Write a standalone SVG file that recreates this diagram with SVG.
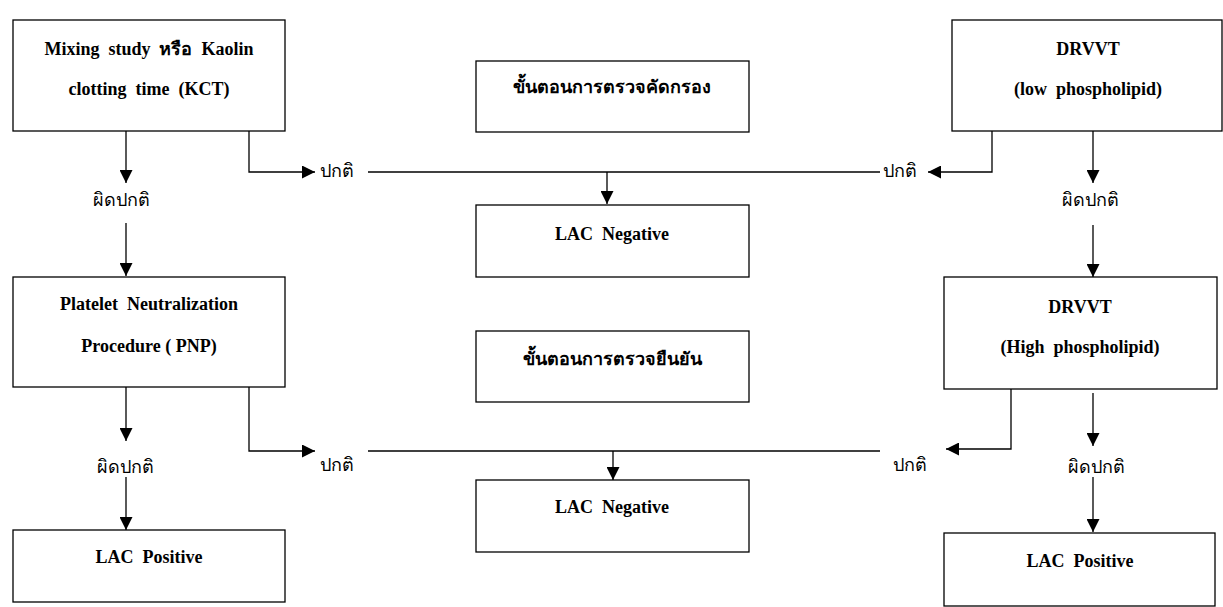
<svg xmlns="http://www.w3.org/2000/svg" width="1223" height="607" viewBox="0 0 1223 607">
<style>
.box{fill:#fff;stroke:#000;stroke-width:1.3}
.t{font-family:"Liberation Serif","Times New Roman","DejaVu Serif",serif;font-weight:bold;font-size:18px;fill:#000;text-anchor:middle}
.th{font-family:"Liberation Serif","Noto Sans",serif;font-weight:bold;font-size:18px;fill:#000;text-anchor:middle}
.lb{font-family:"Liberation Sans","Noto Sans",sans-serif;font-size:18px;fill:#000}
.c{fill:none;stroke:#000;stroke-width:1.3}
</style>
<defs>
<marker id="ah" viewBox="0 0 13 13" refX="13" refY="6.5" markerWidth="13" markerHeight="13" markerUnits="userSpaceOnUse" orient="auto">
<path d="M0,0 L13,6.5 L0,13 z" fill="#000"/>
</marker>
</defs>
<rect width="1223" height="607" fill="#fff"/>
<g id="connectors">
<path class="c" d="M126,131 V183" marker-end="url(#ah)"/>
<path class="c" d="M126,223 V276" marker-end="url(#ah)"/>
<path class="c" d="M249,131 V172 H315" marker-end="url(#ah)"/>
<path class="c" d="M368,172 H880"/>
<path class="c" d="M607,172 V204" marker-end="url(#ah)"/>
<path class="c" d="M992,131 V172 H928" marker-end="url(#ah)"/>
<path class="c" d="M1093,131 V183" marker-end="url(#ah)"/>
<path class="c" d="M1093,225 V277" marker-end="url(#ah)"/>
<path class="c" d="M126,387 V441" marker-end="url(#ah)"/>
<path class="c" d="M126,477 V530" marker-end="url(#ah)"/>
<path class="c" d="M249,387 V451 H315" marker-end="url(#ah)"/>
<path class="c" d="M368,451 H880"/>
<path class="c" d="M613,451 V480" marker-end="url(#ah)"/>
<path class="c" d="M1011,389 V449 H946" marker-end="url(#ah)"/>
<path class="c" d="M1093,393 V446" marker-end="url(#ah)"/>
<path class="c" d="M1093,477 V532" marker-end="url(#ah)"/>
</g>
<g id="labels">
<text class="lb" x="320" y="177">ปกติ</text>
<text class="lb" x="883" y="177">ปกติ</text>
<text class="lb" x="93" y="206">ผิดปกติ</text>
<text class="lb" x="1062" y="206">ผิดปกติ</text>
<text class="lb" x="320" y="471">ปกติ</text>
<text class="lb" x="893" y="471">ปกติ</text>
<text class="lb" x="97" y="473">ผิดปกติ</text>
<text class="lb" x="1068" y="473">ผิดปกติ</text>
</g>
<g id="mixing">
<rect class="box" x="13" y="20" width="272" height="111"/>
<text class="t" x="149" y="55" xml:space="preserve">Mixing  study  หรือ  Kaolin</text>
<text class="t" x="149" y="95" xml:space="preserve">clotting  time  (KCT)</text>
</g>
<g id="screening">
<rect class="box" x="476" y="61" width="273" height="71"/>
<text class="th" x="612" y="93">ขั้นตอนการตรวจคัดกรอง</text>
</g>
<g id="drvvt-low">
<rect class="box" x="952" y="20" width="270" height="111"/>
<text class="t" x="1088" y="55">DRVVT</text>
<text class="t" x="1088" y="95" xml:space="preserve">(low  phospholipid)</text>
</g>
<g id="lac-neg-1">
<rect class="box" x="476" y="205" width="273" height="72"/>
<text class="t" x="612" y="240" xml:space="preserve">LAC  Negative</text>
</g>
<g id="pnp">
<rect class="box" x="13" y="277" width="272" height="110"/>
<text class="t" x="149" y="310" xml:space="preserve">Platelet  Neutralization</text>
<text class="t" x="149" y="352" xml:space="preserve">Procedure ( PNP)</text>
</g>
<g id="confirm">
<rect class="box" x="476" y="331" width="273" height="71"/>
<text class="th" x="612" y="365">ขั้นตอนการตรวจยืนยัน</text>
</g>
<g id="drvvt-high">
<rect class="box" x="944" y="277" width="273" height="112"/>
<text class="t" x="1080" y="313">DRVVT</text>
<text class="t" x="1080" y="353" xml:space="preserve">(High  phospholipid)</text>
</g>
<g id="lac-neg-2">
<rect class="box" x="476" y="480" width="273" height="72"/>
<text class="t" x="612" y="513" xml:space="preserve">LAC  Negative</text>
</g>
<g id="lac-pos-1">
<rect class="box" x="13" y="530" width="272" height="72"/>
<text class="t" x="149" y="563" xml:space="preserve">LAC  Positive</text>
</g>
<g id="lac-pos-2">
<rect class="box" x="944" y="533" width="271" height="73"/>
<text class="t" x="1080" y="567" xml:space="preserve">LAC  Positive</text>
</g>
</svg>
